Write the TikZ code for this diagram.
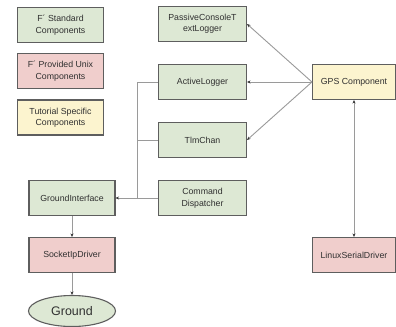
\documentclass[tikz,border=0pt]{standalone}
\usepackage{fontspec}
\setmainfont{Liberation Sans}
\usetikzlibrary{arrows.meta,shapes.geometric}
\definecolor{gfill}{HTML}{DDE8D4}
\definecolor{rfill}{HTML}{F0CECC}
\definecolor{yfill}{HTML}{FCF4CF}
\definecolor{bord}{HTML}{5E5E5E}
\definecolor{conn}{HTML}{9A9A9A}
\definecolor{tipc}{HTML}{333333}
\definecolor{txt}{HTML}{303030}
\tikzset{
  comp/.style={draw=bord, line width=1.1pt, minimum width=86bp, minimum height=35bp,
    inner sep=1pt, align=center, text=txt,
    font=\fontsize{8.8}{11.5}\selectfont},
  green/.style={comp, fill=gfill},
  red/.style={comp, fill=rfill},
  yellow/.style={comp, fill=yfill},
  link/.style={draw=conn, line width=0.9pt},
  arr/.style={link, -{Stealth[length=3.5pt,width=3pt,color=tipc]}},
  darr/.style={link, {Stealth[length=3.5pt,width=3pt,color=tipc]}-{Stealth[length=3.5pt,width=3pt,color=tipc]}}
}
\begin{document}
\begin{tikzpicture}[x=1bp,y=-1bp]
\useasboundingbox[fill=white] (0,0) rectangle (396,327);
% legend
\node[green] (leg1) at (60.5,25) {F\textasciiacute{} Standard\\Components};
\node[red] (leg2) at (60.5,71) {F\textasciiacute{} Provided Unix\\Components};
\node[yellow] (leg3) at (60.5,117.5) {Tutorial Specific\\Components};
% components
\node[green, minimum width=88bp] (pctl) at (202.5,24) {PassiveConsoleT\\extLogger};
\node[green, minimum width=88bp] (alog) at (202.5,82) {ActiveLogger};
\node[green, minimum width=88bp] (tlm) at (202.5,140) {TlmChan};
\node[green, minimum width=88bp] (cmd) at (202.5,198) {Command\\Dispatcher};
\node[green] (gi) at (72,198) {GroundInterface};
\node[red] (sock) at (72,255) {SocketIpDriver};
\node[ellipse, draw=bord, line width=1.1pt, fill=gfill, minimum width=87bp, minimum height=31bp,
  inner sep=0pt, text=txt, font=\fontsize{12.5}{14}\selectfont] (ground) at (72,311) {Ground};
\node[yellow, minimum width=83bp] (gps) at (354,82) {GPS Component};
\node[red, minimum width=83bp] (lsd) at (354,255) {LinuxSerialDriver};
% junction
\coordinate (j) at (137,198);
% connectors
\draw[arr] (gps.west) -- (pctl.east);
\draw[arr] (gps.west) -- (alog.east);
\draw[arr] (gps.west) -- (tlm.east);
\draw[darr] (gps.south) -- (lsd.north);
\draw[link] (alog.west) -- (alog.west -| j) -- (j);
\draw[link] (tlm.west) -- (tlm.west -| j);
\draw[arr] (cmd.west) -- (gi.east);
\draw[arr] (gi.south) -- (sock.north);
\draw[arr] (sock.south) -- (ground.north);
\end{tikzpicture}
\end{document}
